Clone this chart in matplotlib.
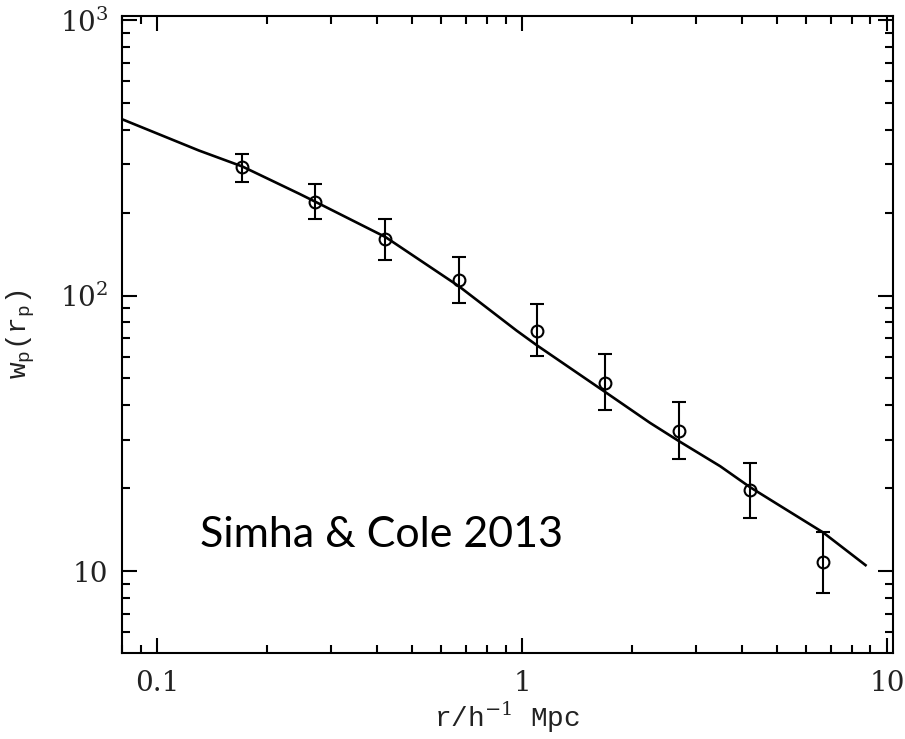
import matplotlib
matplotlib.use("Agg")
import matplotlib.pyplot as plt
from matplotlib.ticker import FixedLocator, FixedFormatter, NullFormatter

# measured points (projected correlation function)
r_p = [0.171, 0.271, 0.422, 0.671, 1.10, 1.69, 2.69, 4.20, 6.68]
w_p = [292, 219, 160, 114, 74.6, 48.2, 32.2, 19.6, 10.8]
w_hi = [327, 254, 190, 138, 93.5, 61.1, 40.9, 24.6, 13.9]
w_lo = [258, 190, 135, 94, 60.5, 38.3, 25.5, 15.6, 8.3]

# model curve
curve_r = [0.0795, 0.130, 0.171, 0.245, 0.271, 0.422, 0.671, 0.965, 1.10,
           1.69, 2.24, 2.69, 3.49, 4.20, 5.00, 6.68, 8.73]
curve_w = [438, 336, 294, 234, 219, 163, 108, 74.6, 65.8,
           44.6, 34.5, 29.6, 24.0, 20.2, 17.5, 13.8, 10.5]

x_ticks = [0.1, 1, 10]
x_labels = ["0.1", "1", "10"]
y_ticks = [10, 100, 1000]
y_labels = ["10", "$10^2$", "$10^3$"]


def make_plot():
    plt.rcParams["mathtext.fontset"] = "dejavuserif"
    fig = plt.figure(figsize=(9.05, 7.39), dpi=100)
    ax = fig.add_axes([0.1348, 0.1164, 0.8519, 0.8619])

    err_lo = [w - lo for w, lo in zip(w_p, w_lo)]
    err_hi = [hi - w for w, hi in zip(w_p, w_hi)]

    ax.plot(curve_r, curve_w, color="black", lw=1.9)
    ax.errorbar(r_p, w_p, yerr=[err_lo, err_hi], fmt="o", mfc="none",
                mec="black", ecolor="black", ms=8.5, mew=1.5, elinewidth=1.5,
                capsize=5, capthick=1.5)

    ax.set_xscale("log")
    ax.set_yscale("log")
    ax.set_xlim(0.08, 10.38)
    ax.set_ylim(5.04, 1034)

    ax.xaxis.set_major_locator(FixedLocator(x_ticks))
    ax.xaxis.set_major_formatter(FixedFormatter(x_labels))
    ax.yaxis.set_major_locator(FixedLocator(y_ticks))
    ax.yaxis.set_major_formatter(FixedFormatter(y_labels))
    ax.xaxis.set_minor_formatter(NullFormatter())
    ax.yaxis.set_minor_formatter(NullFormatter())

    ax.tick_params(which="both", direction="in", top=True, right=True,
                   width=1.5, color="black")
    ax.tick_params(which="major", length=11)
    ax.tick_params(which="minor", length=6)
    ax.tick_params(axis="x", which="major", pad=12)
    ax.tick_params(axis="y", which="major", pad=10)
    for lab in ax.get_xticklabels() + ax.get_yticklabels():
        lab.set_fontfamily("DejaVu Serif")
        lab.set_fontsize(20)
        lab.set_color("#222222")
    for sp in ax.spines.values():
        sp.set_linewidth(1.5)

    ax.set_xlabel("r/h$^{-1}$ Mpc", family="Liberation Mono", fontsize=20,
                  color="#222222", labelpad=2)
    ax.set_ylabel("w$_\\mathregular{p}$(r$_\\mathregular{p}$)", family="Liberation Mono",
                  fontsize=20, color="#222222", labelpad=16)

    ax.text(0.101, 0.166, "Simha & Cole 2013", transform=ax.transAxes,
            family="Lato", fontsize=31, color="black")

    fig.savefig("out.png", dpi=100)


def main():
    make_plot()


if __name__ == "__main__":
    main()
